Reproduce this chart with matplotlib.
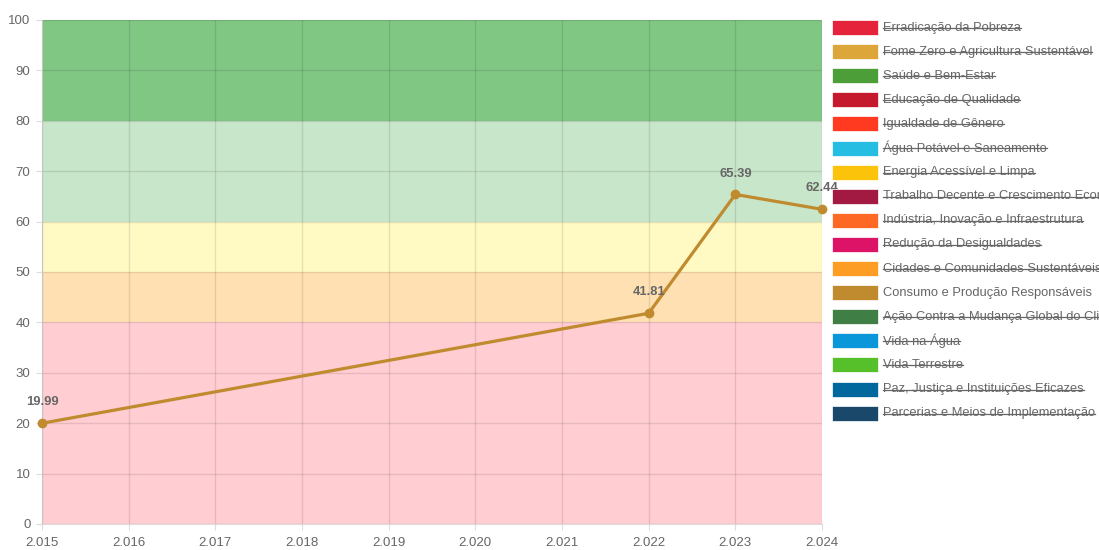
import matplotlib
matplotlib.use('Agg')
import matplotlib.pyplot as plt
from matplotlib.patches import Rectangle
from matplotlib.lines import Line2D
from matplotlib.ticker import FuncFormatter, MultipleLocator

plt.rcParams['font.family'] = ['Liberation Sans', 'DejaVu Sans']

# data
years = [2015, 2022, 2023, 2024]
values = [19.99, 41.81, 65.39, 62.44]

# score bands (low, high, colour)
band_edges = [0, 40, 50, 60, 80, 100]
band_colors = ['#ffcdd2', '#ffe0b2', '#fff9c4', '#c8e6c9', '#81c784']

sdg_names = [
    'Erradicação da Pobreza', 'Fome Zero e Agricultura Sustentável', 'Saúde e Bem-Estar',
    'Educação de Qualidade', 'Igualdade de Gênero', 'Água Potável e Saneamento',
    'Energia Acessível e Limpa', 'Trabalho Decente e Crescimento Econômico',
    'Indústria, Inovação e Infraestrutura', 'Redução da Desigualdades',
    'Cidades e Comunidades Sustentáveis', 'Consumo e Produção Responsáveis',
    'Ação Contra a Mudança Global do Clima', 'Vida na Água', 'Vida Terrestre',
    'Paz, Justiça e Instituições Eficazes', 'Parcerias e Meios de Implementação',
]
sdg_colors = ['#E5243B', '#DDA63A', '#4C9F38', '#C5192D', '#FF3A21', '#26BDE2', '#FCC30B',
              '#A21942', '#FD6925', '#DD1367', '#FD9D24', '#BF8B2E', '#3F7E44', '#0A97D9',
              '#56C02B', '#00689D', '#19486A']
shown = 'Consumo e Produção Responsáveis'

W, H = 1099, 550
fig = plt.figure(figsize=(W / 100, H / 100), dpi=100)
ax = fig.add_axes([42 / W, 1 - 524 / H, (822 - 42) / W, (524 - 20) / H])

for lo, hi, c in zip(band_edges[:-1], band_edges[1:], band_colors):
    ax.axhspan(lo, hi, color=c, zorder=0, lw=0)

line_col = sdg_colors[sdg_names.index(shown)]
ax.plot(years, values, color=line_col, lw=2.3, marker='o', ms=6, zorder=3, clip_on=False)
for x, y in zip(years, values):
    ax.annotate(f'{y:.2f}', (x, y), xytext=(0, 15), textcoords='offset points',
                ha='center', va='center', fontsize=9.4, fontweight='bold', color='#666666',
                zorder=4, annotation_clip=False)

ax.set_xlim(2015, 2024)
ax.set_ylim(0, 100)
ax.xaxis.set_major_locator(MultipleLocator(1))
ax.yaxis.set_major_locator(MultipleLocator(10))
ax.xaxis.set_major_formatter(FuncFormatter(lambda v, p: f'{int(v):,}'.replace(',', '.')))
ax.grid(True, color='#000000', alpha=0.1, lw=1)
ax.set_axisbelow(False)
for s in ['top', 'right']:
    ax.spines[s].set_visible(False)
for s in ['left', 'bottom']:
    ax.spines[s].set_color('#dcdcdc')
ax.tick_params(length=4.3, color='#dcdcdc', labelcolor='#666666', labelsize=9.5, pad=4)
ax.tick_params(axis='x', pad=5)

# legend drawn by hand, struck-through entries are hidden datasets
texts = []
for i, (name, c) in enumerate(zip(sdg_names, sdg_colors)):
    yc = 27.5 + i * 24.1
    fig.add_artist(Rectangle((832 / W, 1 - (yc + 7.5) / H), 46 / W, 15 / H,
                             transform=fig.transFigure, facecolor=c, edgecolor='white', lw=0.5))
    t = fig.text(883 / W, 1 - yc / H, name, fontsize=9.3, color='#666666', va='center', ha='left')
    texts.append((t, name != shown))

fig.canvas.draw()
r = fig.canvas.get_renderer()
for t, strike in texts:
    if not strike:
        continue
    bb = t.get_window_extent(r)
    ym = (bb.y0 + bb.y1) / 2 / H - 0.5 / H
    fig.add_artist(Line2D([bb.x0 / W, bb.x1 / W], [ym, ym], transform=fig.transFigure,
                          color='#666666', lw=0.9))

fig.savefig('out.png', dpi=100)
